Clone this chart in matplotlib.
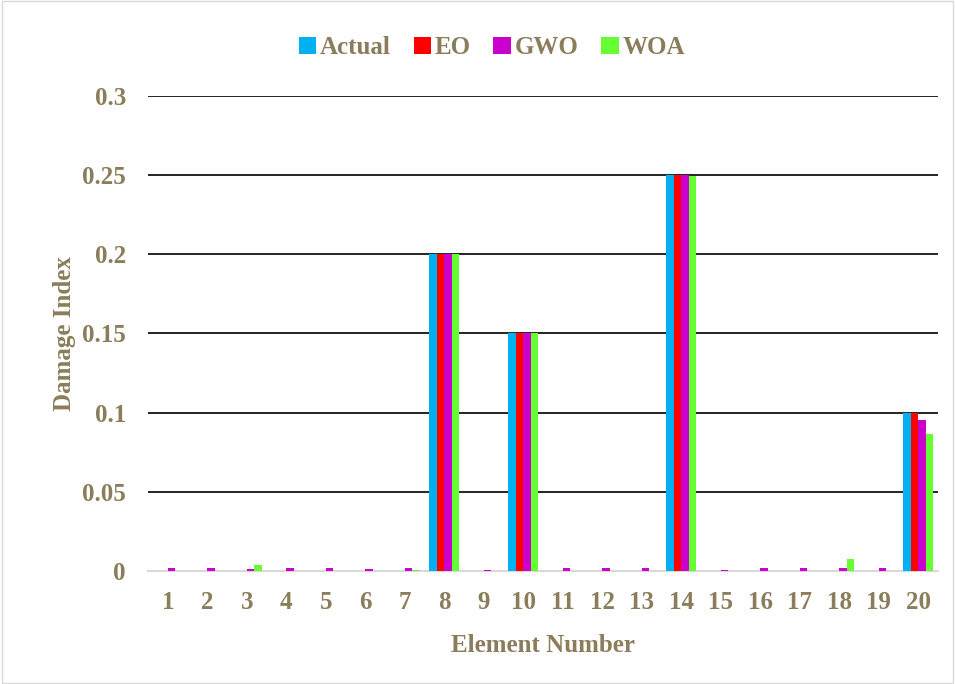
import numpy as np
import matplotlib
matplotlib.use("Agg")
from matplotlib import pyplot as plt

elements = [str(i) for i in range(1, 21)]
actual = [0, 0, 0, 0, 0, 0, 0, 0.2, 0, 0.15, 0, 0, 0, 0.25, 0, 0, 0, 0, 0, 0.1]
eo = [0, 0, 0, 0, 0, 0, 0, 0.2, 0, 0.15, 0, 0, 0, 0.25, 0, 0, 0, 0, 0, 0.1]
gwo = [0.002, 0.0018, 0.0012, 0.002, 0.0022, 0.0012, 0.002, 0.2, 0.0008, 0.15,
       0.0018, 0.0022, 0.002, 0.25, 0.0008, 0.0018, 0.0022, 0.0018, 0.0018, 0.0953]
woa = [0, 0, 0.0038, 0, 0, 0, 0.0005, 0.2, 0, 0.15,
       0, 0, 0, 0.2495, 0, 0, 0, 0.0078, 0, 0.0865]
series = [("Actual", actual, "#00B0F0"), ("EO", eo, "#FF0000"),
          ("GWO", gwo, "#CC00CC"), ("WOA", woa, "#66FF33")]

txt = "#8B7D5B"
plt.rcParams['font.family'] = ['Liberation Serif', 'DejaVu Serif']
plt.rcParams['font.weight'] = 'bold'

fig = plt.figure(figsize=(9.55, 6.84), dpi=100)
ax = fig.add_axes([0.155, 0.165, 0.827, 0.695])

x = np.arange(len(elements))
w = 0.19
for i, (name, vals, col) in enumerate(series):
    ax.bar(x + (i - 1.5) * w, vals, w, color=col, label=name, zorder=3)

ax.set_xlim(-0.5, len(elements) - 0.5)
ax.set_ylim(0, 0.3)
ax.set_yticks([0, 0.05, 0.1, 0.15, 0.2, 0.25, 0.3])
ax.set_yticklabels(['0', '0.05', '0.1', '0.15', '0.2', '0.25', '0.3'])
ax.set_xticks(x)
ax.set_xticklabels(elements)
ax.grid(axis='y', color='black', linewidth=1.2, zorder=0)
ax.tick_params(length=0, labelsize=18, labelcolor=txt, pad=14)
ax.tick_params(axis='y', pad=16)
for s in ['top', 'right', 'left']:
    ax.spines[s].set_visible(False)
ax.spines['bottom'].set_color('#D9D9D9')
ax.spines['bottom'].set_linewidth(1.5)

ax.set_xlabel('Element Number', fontsize=18, color=txt, fontweight='bold', labelpad=15)
ax.set_ylabel('Damage Index', fontsize=18, color=txt, fontweight='bold', labelpad=4)

leg = fig.legend(loc='upper center', bbox_to_anchor=(0.515, 0.98), ncol=4,
                 frameon=False, fontsize=18, handlelength=0.7, handleheight=0.7,
                 handletextpad=0.15, columnspacing=0.9)
for t in leg.get_texts():
    t.set_color(txt)

fig.patches.append(plt.Rectangle((0.002, 0.002), 0.996, 0.996, transform=fig.transFigure,
                                 fill=False, edgecolor='#D9D9D9', linewidth=1))

fig.savefig("out.png", dpi=100)
